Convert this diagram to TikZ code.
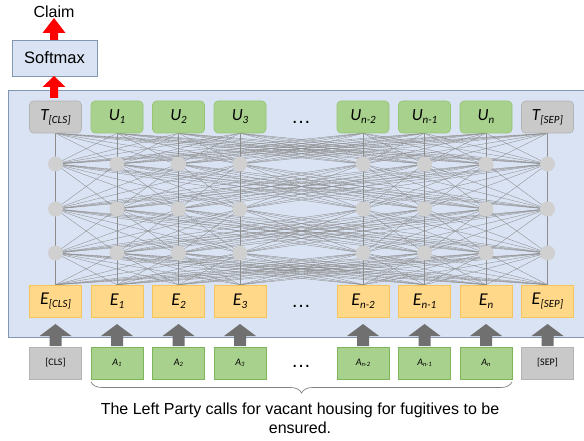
\documentclass[tikz,border=0pt]{standalone}
\usepackage{fontspec}
\setmainfont{Liberation Sans}
\newfontfamily\calfont{Carlito}
\usetikzlibrary{decorations.pathreplacing,calc}
\pgfdeclarelayer{bg}\pgfdeclarelayer{edges}
\pgfsetlayers{bg,edges,main}
\definecolor{panelfill}{HTML}{DAE3F3}
\definecolor{panelline}{HTML}{8497B0}
\definecolor{ugreen}{HTML}{A9D18E}
\definecolor{ugreenb}{HTML}{94C572}
\definecolor{agreenb}{HTML}{7DB55A}
\definecolor{tgray}{HTML}{C9C9C9}
\definecolor{tgrayb}{HTML}{B3B3B3}
\definecolor{eorange}{HTML}{FFD88A}
\definecolor{eorangeb}{HTML}{F5C45A}
\definecolor{circfill}{HTML}{D0D0D0}
\definecolor{edgecol}{HTML}{8C8C8C}
\definecolor{arrgray}{HTML}{707070}
\newcommand\lab[2]{{\calfont\itshape #1\raisebox{-3pt}{\fontsize{11}{11}\selectfont #2}}}
\newcommand\alab[2]{{\calfont\itshape\fontsize{10}{10}\selectfont #1\raisebox{-1.5pt}{\fontsize{6.5}{6.5}\selectfont #2}}}
\newcommand\blkarrow[7]{\fill[#1] (#2-#6,#5) -- (#2-#6,#4) -- (#2-#7,#4) -- (#2,#3) -- (#2+#7,#4) -- (#2+#6,#4) -- (#2+#6,#5) -- cycle;}
\begin{document}
\begin{tikzpicture}[x=1pt,y=-1pt,
  box/.style={minimum width=52pt,minimum height=32pt,inner sep=0pt,line width=0.6pt,font=\fontsize{17}{17}\selectfont},
  topg/.style={box,rounded corners=4pt,fill=ugreen,draw=ugreenb},
  topt/.style={box,rounded corners=4pt,fill=tgray,draw=tgrayb},
  emb/.style={box,fill=eorange,draw=eorangeb,font=\fontsize{18}{18}\selectfont},
  inpg/.style={box,fill=ugreen,draw=agreenb},
  inpt/.style={box,fill=tgray,draw=tgrayb,font=\calfont\fontsize{10}{10}\selectfont},
  neuron/.style={circle,minimum size=15pt,inner sep=0pt,fill=circfill,draw=none},
  edge/.style={draw=edgecol,line width=0.35pt},
  dotsn/.style={font=\fontsize{20}{20}\selectfont,inner sep=0pt}
]
\useasboundingbox (0,0) rectangle (584,441);

% panel
\begin{pgfonlayer}{bg}
\fill[panelfill] (8,90) rectangle (583.5,337);
\draw[panelline,line width=0.8pt] (583.5,90) -- (8,90) -- (8,337) -- (583.5,337);
\end{pgfonlayer}

% claim & softmax
\node[font=\fontsize{16}{16}\selectfont] (claim) at (54,12) {Claim};
\node[minimum width=85pt,minimum height=36pt,inner sep=0pt,fill=panelfill,draw=panelline,line width=0.8pt,font=\fontsize{16.5}{16.5}\selectfont] (sm) at (54.5,58) {Softmax};
\blkarrow{red}{54}{18}{33}{40}{4}{11.5}
\blkarrow{red}{54}{76}{87}{98}{4}{11.5}

% top row
\node[topt] (t0) at (55.5,117) {\lab{T}{[CLS]}};
\node[topg] (t1) at (117,117) {\lab{U}{1}};
\node[topg] (t2) at (178.5,117) {\lab{U}{2}};
\node[topg] (t3) at (240,117) {\lab{U}{3}};
\node[topg] (t4) at (363,117) {\lab{U}{n-2}};
\node[topg] (t5) at (424.5,117) {\lab{U}{n-1}};
\node[topg] (t6) at (486,117) {\lab{U}{n}};
\node[topt] (t7) at (547.5,117) {\lab{T}{[SEP]}};

% embeddings
\node[emb] (e0) at (55.5,301) {\lab{E}{[CLS]}};
\node[emb] (e1) at (117,301) {\lab{E}{1}};
\node[emb] (e2) at (178.5,301) {\lab{E}{2}};
\node[emb] (e3) at (240,301) {\lab{E}{3}};
\node[emb] (e4) at (363,301) {\lab{E}{n-2}};
\node[emb] (e5) at (424.5,301) {\lab{E}{n-1}};
\node[emb] (e6) at (486,301) {\lab{E}{n}};
\node[emb] (e7) at (547.5,301) {\lab{E}{[SEP]}};

% inputs
\node[inpt] (a0) at (55.5,363) {[CLS]};
\node[inpg] (a1) at (117,363) {\alab{A}{1}};
\node[inpg] (a2) at (178.5,363) {\alab{A}{2}};
\node[inpg] (a3) at (240,363) {\alab{A}{3}};
\node[inpg] (a4) at (363,363) {\alab{A}{n-2}};
\node[inpg] (a5) at (424.5,363) {\alab{A}{n-1}};
\node[inpg] (a6) at (486,363) {\alab{A}{n}};
\node[inpt] (a7) at (547.5,363) {[SEP]};

% neurons
\foreach \i/\x in {0/55.5,1/117,2/178.5,3/240,4/363,5/424.5,6/486,7/547.5}{
  \node[neuron] (la\i) at (\x,164) {};
  \node[neuron] (lb\i) at (\x,209) {};
  \node[neuron] (lc\i) at (\x,253) {};
  \blkarrow{arrgray}{\x}{324}{336}{346}{6}{16}
}

% dots
\node[dotsn] (d1) at (301,122) {\dots};
\node[dotsn] (d2) at (301,306) {\dots};
\node[dotsn] (d3) at (301,366) {\dots};

% edges
\begin{pgfonlayer}{edges}
\foreach \i in {0,...,7}{
  \foreach \j in {0,...,7}{
    \draw[edge] (t\i.south) -- (la\j.center);
    \draw[edge] (la\i.center) -- (lb\j.center);
    \draw[edge] (lb\i.center) -- (lc\j.center);
    \draw[edge] (lc\i.center) -- (e\j.north);
  }
}
\end{pgfonlayer}

% brace and sentence
\coordinate (bl) at (91,382);
\coordinate (br) at (512,382);
\draw[decorate,decoration={brace,amplitude=11pt,mirror},draw=gray,line width=0.7pt] (bl) -- (br);
\node[font=\fontsize{16}{19}\selectfont,align=center,anchor=north] (sent) at (300,399) {The Left Party calls for vacant housing for fugitives to be\\ensured.};
\end{tikzpicture}
\end{document}
